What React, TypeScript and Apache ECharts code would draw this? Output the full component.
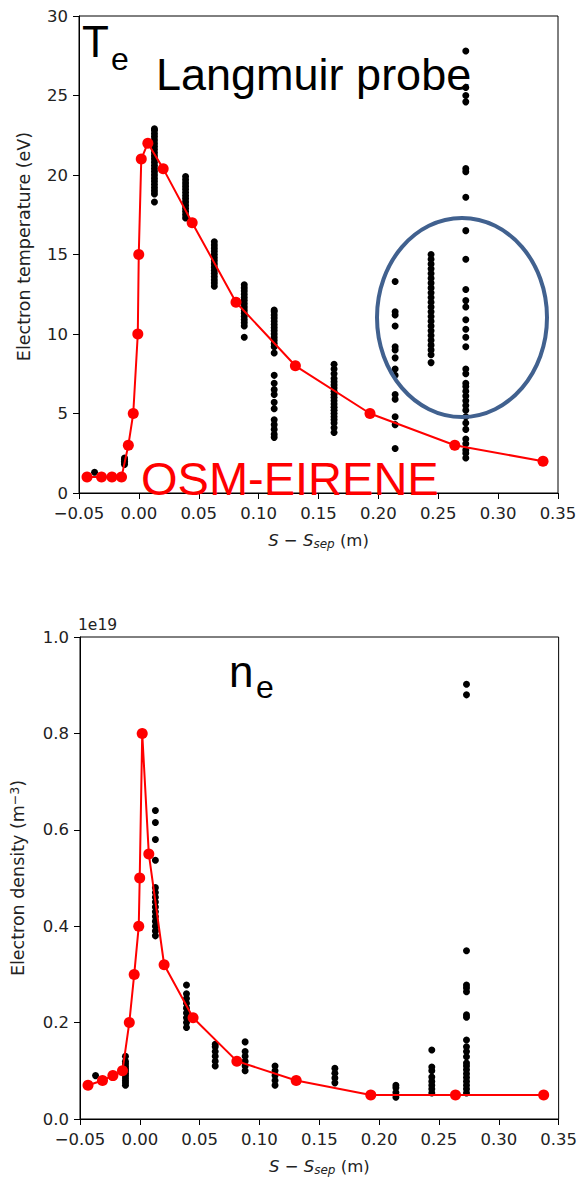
import React, { useEffect, useRef } from "react";
import * as echarts from "echarts";

// ---------- data ----------
// OSM-EIRENE model grid (S - S_sep, m)
const modelS = [-0.0433, -0.0312, -0.0225, -0.0145, -0.0088, -0.0047, -0.0009, -0.0001, 0.002, 0.0075, 0.0203, 0.0445, 0.0811, 0.1307, 0.193, 0.2638, 0.3375];
// OSM-EIRENE electron temperature (eV)
const modelTe = [1, 1, 1, 1, 3, 5, 10, 15, 21, 22, 20.4, 17, 12, 8, 5, 3, 2];
// OSM-EIRENE electron density (1e19 m^-3)
const modelNe = [0.07, 0.08, 0.09, 0.1, 0.2, 0.3, 0.4, 0.5, 0.8, 0.55, 0.32, 0.21, 0.12, 0.08, 0.05, 0.05, 0.05];

// Langmuir probe positions (S - S_sep, m)
const probeS = [-0.037, -0.012, 0.013, 0.039, 0.063, 0.088, 0.113, 0.163, 0.214, 0.244, 0.273];
// Langmuir probe Te (eV) per position
const probeTe = [
  [1.3],
  [1.8, 1.9, 2.0, 2.1, 2.2],
  [18.3, 18.8, 19.0, 19.2, 19.4, 19.6, 19.8, 20.0, 20.2, 20.4, 20.6, 20.8, 21.0, 21.2, 21.4, 21.6, 21.8, 22.0, 22.2, 22.4, 22.6, 22.8, 22.9],
  [17.3, 17.5, 17.7, 17.9, 18.1, 18.3, 18.5, 18.7, 18.9, 19.1, 19.3, 19.5, 19.7, 19.9],
  [13.0, 13.2, 13.4, 13.6, 13.8, 14.0, 14.2, 14.4, 14.6, 14.8, 15.0, 15.2, 15.4, 15.6, 15.8],
  [9.8, 10.5, 10.7, 10.9, 11.1, 11.3, 11.5, 11.7, 11.9, 12.1, 12.3, 12.5, 12.7, 12.9, 13.1],
  [3.5, 3.7, 4.0, 4.3, 4.6, 5.3, 5.7, 6.2, 6.5, 6.9, 7.4, 8.8, 9.2, 9.4, 9.6, 9.8, 10.0, 10.2, 10.4, 10.6, 10.8, 11.0, 11.2, 11.4, 11.5],
  [3.8, 4.1, 4.4, 4.6, 4.8, 5.0, 5.2, 5.4, 5.6, 5.8, 6.0, 6.2, 6.4, 6.6, 6.8, 7.0, 7.2, 7.5, 7.8, 8.1],
  [2.8, 4.3, 4.8, 5.9, 6.2, 7.4, 7.8, 8.5, 9.0, 9.2, 10.5, 11.2, 11.4, 13.3],
  [8.2, 8.7, 9.0, 9.3, 9.6, 9.9, 10.2, 10.5, 10.8, 11.1, 11.4, 11.7, 12.0, 12.3, 12.6, 12.9, 13.2, 13.5, 13.8, 14.1, 14.4, 14.7, 15.0],
  [2.2, 2.5, 2.7, 3.1, 3.4, 4.0, 4.4, 4.8, 5.2, 5.5, 5.8, 6.1, 6.4, 6.7, 6.9, 7.5, 7.8, 9.2, 9.8, 10.3, 10.9, 11.7, 12.1, 12.8, 14.7, 16.5, 18.6, 20.2, 20.4, 24.6, 25.0, 25.5, 27.8],
];
// Langmuir probe ne (1e19 m^-3) per position
const probeNe = [
  [0.09],
  [0.07, 0.075, 0.08, 0.085, 0.09, 0.095, 0.1, 0.105, 0.11, 0.115, 0.12, 0.13],
  [0.38, 0.39, 0.4, 0.41, 0.42, 0.43, 0.44, 0.45, 0.46, 0.47, 0.48, 0.537, 0.58, 0.615, 0.64],
  [0.19, 0.2, 0.21, 0.22, 0.23, 0.24, 0.25, 0.26, 0.278],
  [0.11, 0.12, 0.13, 0.14, 0.15, 0.155],
  [0.1, 0.11, 0.12, 0.13, 0.14, 0.16],
  [0.07, 0.08, 0.09, 0.1, 0.11],
  [0.075, 0.085, 0.095, 0.105],
  [0.045, 0.055, 0.065, 0.07],
  [0.054, 0.062, 0.07, 0.078, 0.087, 0.1, 0.108, 0.143],
  [0.054, 0.062, 0.07, 0.078, 0.086, 0.094, 0.102, 0.11, 0.116, 0.129, 0.14, 0.15, 0.164, 0.211, 0.216, 0.264, 0.272, 0.278, 0.349, 0.88, 0.902],
];

const xTickFmt = (v: number) => {
  const s = Math.abs(v) < 1e-9 ? "0.00" : v.toFixed(2);
  return s.replace("-", "\u2212");
};

const TXT = "#222";
const TICK_FONT = "DejaVu Sans";
const ANN_FONT = "Liberation Sans";

function makeXAxis(gridIndex: number) {
  return {
    type: "value",
    gridIndex,
    min: -0.05,
    max: 0.35,
    interval: 0.05,
    splitLine: { show: false },
    axisLine: { show: true, onZero: false, lineStyle: { color: "#000", width: 1 } },
    axisTick: { show: true, inside: false, length: 6, lineStyle: { color: "#000", width: 1 } },
    axisLabel: { color: TXT, fontFamily: TICK_FONT, fontSize: 16.5, margin: 12, formatter: xTickFmt },
    name: "{i|S} \u2212 {i|S}{sub|sep} (m)",
    nameLocation: "middle",
    nameGap: 37,
    nameTextStyle: {
      color: TXT,
      fontFamily: TICK_FONT,
      fontSize: 16.5,
      lineHeight: 20,
      rich: {
        i: { fontStyle: "italic", fontFamily: TICK_FONT, fontSize: 16.5, color: TXT, lineHeight: 20 },
        sub: { fontStyle: "italic", fontFamily: TICK_FONT, fontSize: 12, color: TXT, lineHeight: 10, verticalAlign: "bottom" },
      },
    },
  };
}

function makeYAxisBase(gridIndex: number) {
  return {
    type: "value",
    gridIndex,
    splitLine: { show: false },
    axisLine: { show: true, onZero: false, lineStyle: { color: "#000", width: 1 } },
    axisTick: { show: true, length: 6, lineStyle: { color: "#000", width: 1 } },
  };
}

export default function App() {
  const ref = useRef<HTMLDivElement>(null);
  useEffect(() => {
    if (!ref.current) return;
    const chart = echarts.init(ref.current, null, { renderer: "svg" });
    const teProbeData: number[][] = [];
    probeTe.forEach((vals, i) => vals.forEach((v) => teProbeData.push([probeS[i], v])));
    const neProbeData: number[][] = [];
    probeNe.forEach((vals, i) => vals.forEach((v) => neProbeData.push([probeS[i], v])));
    const teModelData = modelS.map((s, i) => [s, modelTe[i]]);
    const neModelData = modelS.map((s, i) => [s, modelNe[i]]);

    chart.setOption({
      animation: false,
      backgroundColor: "#fff",
      grid: [
        { left: 79, top: 16, width: 479, height: 477, show: true, borderColor: "#000", borderWidth: 1, backgroundColor: "transparent" },
        { left: 77, top: 637, width: 482, height: 482, show: true, borderColor: "#000", borderWidth: 1, backgroundColor: "transparent" },
      ],
      xAxis: [makeXAxis(0), makeXAxis(1)],
      yAxis: [
        {
          ...makeYAxisBase(0),
          min: 0,
          max: 30,
          interval: 5,
          axisLabel: { color: TXT, fontFamily: TICK_FONT, fontSize: 16.5, margin: 11 },
          name: "Electron temperature (eV)",
          nameLocation: "middle",
          nameGap: 46,
          nameRotate: 90,
          nameTextStyle: { color: TXT, fontFamily: TICK_FONT, fontSize: 17.5, padding: [0, 0, 0, 16] },
        },
        {
          ...makeYAxisBase(1),
          min: 0,
          max: 1.0,
          interval: 0.2,
          axisLabel: { color: TXT, fontFamily: TICK_FONT, fontSize: 16.5, margin: 11, formatter: (v: number) => v.toFixed(1) },
          name: "Electron density (m{sup|\u22123})",
          nameLocation: "middle",
          nameGap: 52,
          nameRotate: 90,
          nameTextStyle: {
            color: TXT,
            fontFamily: TICK_FONT,
            fontSize: 17.5,
            lineHeight: 20,
            rich: {
              sup: { fontFamily: TICK_FONT, fontSize: 12.5, color: TXT, lineHeight: 10, verticalAlign: "top" },
            },
          },
        },
      ],
      series: [
        {
          type: "scatter",
          xAxisIndex: 0,
          yAxisIndex: 0,
          data: teProbeData,
          symbol: "circle",
          symbolSize: 7,
          itemStyle: { color: "#000", opacity: 1 },
          z: 2,
        },
        {
          type: "line",
          xAxisIndex: 0,
          yAxisIndex: 0,
          data: teModelData,
          symbol: "circle",
          symbolSize: 11,
          lineStyle: { color: "#ff0000", width: 2 },
          itemStyle: { color: "#ff0000", opacity: 1 },
          z: 3,
        },
        {
          type: "scatter",
          xAxisIndex: 1,
          yAxisIndex: 1,
          data: neProbeData,
          symbol: "circle",
          symbolSize: 7,
          itemStyle: { color: "#000", opacity: 1 },
          z: 2,
        },
        {
          type: "line",
          xAxisIndex: 1,
          yAxisIndex: 1,
          data: neModelData,
          symbol: "circle",
          symbolSize: 11,
          lineStyle: { color: "#ff0000", width: 2 },
          itemStyle: { color: "#ff0000", opacity: 1 },
          z: 3,
        },
      ],
      graphic: [
        { type: "text", x: 82, y: 41.5, z: 50, style: { text: "T", fontFamily: ANN_FONT, fontSize: 44, fill: "#000", verticalAlign: "middle" } },
        { type: "text", x: 111, y: 58.8, z: 50, style: { text: "e", fontFamily: ANN_FONT, fontSize: 32, fill: "#000", verticalAlign: "middle" } },
        { type: "text", x: 156, y: 74, z: 50, style: { text: "Langmuir probe", fontFamily: ANN_FONT, fontSize: 45, fill: "#000", verticalAlign: "middle" } },
        { type: "text", x: 141, y: 478.5, z: 50, style: { text: "OSM-EIRENE", fontFamily: ANN_FONT, fontSize: 47, fill: "#ff0000", verticalAlign: "middle" } },
        { type: "text", x: 229, y: 671.6, z: 50, style: { text: "n", fontFamily: ANN_FONT, fontSize: 44, fill: "#000", verticalAlign: "middle" } },
        { type: "text", x: 256, y: 686.8, z: 50, style: { text: "e", fontFamily: ANN_FONT, fontSize: 32, fill: "#000", verticalAlign: "middle" } },
        { type: "text", x: 78, y: 624.6, z: 50, style: { text: "1e19", fontFamily: TICK_FONT, fontSize: 15.5, fill: TXT, verticalAlign: "middle" } },
        {
          type: "ellipse",
          z: 60,
          shape: { cx: 462, cy: 317.5, rx: 85, ry: 99.5 },
          style: { fill: "none", stroke: "#41618f", lineWidth: 4 },
        },
      ],
    });
    return () => chart.dispose();
  }, []);
  return <div ref={ref} style={{ position: "absolute", left: 0, top: 0, width: 580, height: 1180 }} />;
}
